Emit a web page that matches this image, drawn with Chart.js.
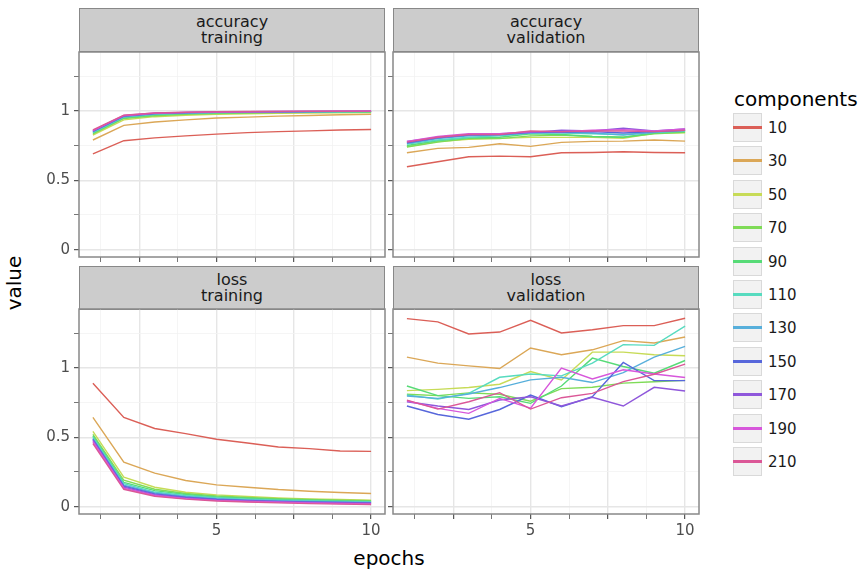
<!DOCTYPE html>
<html>
<head>
<meta charset="utf-8">
<script src="https://cdn.jsdelivr.net/npm/chart.js@4/dist/chart.umd.min.js"></script>
<style>
body { margin: 0; background: #fff; width: 865px; height: 574px; position: relative; overflow: hidden; font-family: "DejaVu Sans", sans-serif; }
canvas { position: absolute; }
.strip { position: absolute; width: 306px; height: 44px; background: #cccccc; border: 1.5px solid #888; box-sizing: border-box; text-align: center; font-size: 16px; line-height: 16px; color: #1a1a1a; padding-top: 5px; }
.title { position: absolute; font-size: 20px; color: #000; }
.key { position: absolute; left: 733px; width: 29px; height: 29px; background: #f2f2f2; border: 1.5px solid #d9d9d9; box-sizing: border-box; }
.key span { position: absolute; left: -1px; right: -1px; top: 12px; height: 3px; }
.klabel { position: absolute; left: 768px; font-size: 15px; color: #1a1a1a; }
</style>
</head>
<body>
<div class="strip" style="left:79px;top:8px">accuracy<br>training</div>
<div class="strip" style="left:393px;top:8px">accuracy<br>validation</div>
<div class="strip" style="left:79px;top:266px">loss<br>training</div>
<div class="strip" style="left:393px;top:266px">loss<br>validation</div>

<canvas id="accTrain" width="348" height="214" style="left:39px;top:51px"></canvas>
<canvas id="accVal" width="314" height="214" style="left:387px;top:51px"></canvas>
<canvas id="lossTrain" width="348" height="236" style="left:39px;top:308px"></canvas>
<canvas id="lossVal" width="314" height="236" style="left:387px;top:308px"></canvas>

<div class="title" style="left:14px;top:283px;transform:translate(-50%,-50%) rotate(-90deg)">value</div>
<div class="title" style="left:389px;top:558px;transform:translate(-50%,-50%)">epochs</div>
<div class="title" style="left:734px;top:87px">components</div>
<div id="legend"></div>

<script>
// categories
const epochs = [1, 2, 3, 4, 5, 6, 7, 8, 9, 10];
const components = ['10', '30', '50', '70', '90', '110', '130', '150', '170', '190', '210'];
const colors = ['#db5f57', '#dba757', '#c7db57', '#7fdb57', '#57db77', '#57dbbf',
                '#57afdb', '#5767db', '#8f57db', '#d757db', '#db5797'];

// tick labels
const xTicks = [1.25, 2.5, 3.75, 5, 6.25, 7.5, 8.75, 10];
const xMajor = [2.5, 5, 7.5, 10];
const xLabels = { 5: '5', 10: '10' };
const yTicks = [0, 0.25, 0.5, 0.75, 1, 1.25];
const yMajor = [0, 0.5, 1];
const yLabels = { 0: '0', 0.5: '0.5', 1: '1' };

// one row per component, one value per epoch
const accTrain = [
    [0.69, 0.785, 0.805, 0.82, 0.832, 0.843, 0.85, 0.856, 0.862, 0.866],
    [0.79, 0.895, 0.92, 0.935, 0.948, 0.955, 0.962, 0.967, 0.972, 0.976],
    [0.826, 0.935, 0.958, 0.968, 0.975, 0.979, 0.982, 0.984, 0.986, 0.987],
    [0.835, 0.945, 0.965, 0.975, 0.98, 0.984, 0.987, 0.989, 0.99, 0.991],
    [0.84, 0.95, 0.972, 0.98, 0.985, 0.988, 0.99, 0.991, 0.992, 0.993],
    [0.845, 0.955, 0.976, 0.983, 0.988, 0.99, 0.992, 0.993, 0.994, 0.995],
    [0.848, 0.958, 0.978, 0.985, 0.989, 0.991, 0.993, 0.994, 0.995, 0.996],
    [0.852, 0.962, 0.98, 0.987, 0.99, 0.993, 0.994, 0.995, 0.996, 0.997],
    [0.855, 0.965, 0.982, 0.988, 0.991, 0.994, 0.995, 0.996, 0.997, 0.997],
    [0.858, 0.967, 0.984, 0.989, 0.992, 0.994, 0.995, 0.996, 0.997, 0.998],
    [0.862, 0.968, 0.985, 0.99, 0.993, 0.995, 0.996, 0.997, 0.997, 0.998]
];
const accVal = [
    [0.597, 0.633, 0.669, 0.674, 0.669, 0.698, 0.7, 0.705, 0.7, 0.698],
    [0.698, 0.73, 0.737, 0.763, 0.744, 0.773, 0.78, 0.782, 0.79, 0.782],
    [0.742, 0.778, 0.795, 0.802, 0.809, 0.809, 0.809, 0.802, 0.838, 0.842],
    [0.74, 0.775, 0.8, 0.8, 0.82, 0.825, 0.815, 0.81, 0.835, 0.845],
    [0.75, 0.785, 0.805, 0.81, 0.835, 0.83, 0.815, 0.81, 0.84, 0.85],
    [0.76, 0.79, 0.81, 0.82, 0.84, 0.84, 0.835, 0.83, 0.845, 0.855],
    [0.765, 0.8, 0.82, 0.825, 0.84, 0.845, 0.84, 0.825, 0.845, 0.86],
    [0.77, 0.805, 0.825, 0.83, 0.845, 0.845, 0.85, 0.84, 0.85, 0.86],
    [0.78, 0.81, 0.83, 0.835, 0.845, 0.86, 0.855, 0.875, 0.855, 0.87],
    [0.78, 0.815, 0.835, 0.835, 0.85, 0.85, 0.86, 0.865, 0.855, 0.87],
    [0.775, 0.81, 0.83, 0.83, 0.855, 0.85, 0.855, 0.855, 0.85, 0.86]
];
const lossTrain = [
    [0.889, 0.643, 0.563, 0.526, 0.486, 0.459, 0.43, 0.418, 0.401, 0.398],
    [0.643, 0.321, 0.241, 0.188, 0.157, 0.14, 0.123, 0.111, 0.102, 0.095],
    [0.543, 0.213, 0.14, 0.104, 0.085, 0.073, 0.063, 0.056, 0.051, 0.046],
    [0.52, 0.19, 0.125, 0.095, 0.077, 0.066, 0.058, 0.052, 0.047, 0.043],
    [0.51, 0.175, 0.115, 0.087, 0.07, 0.06, 0.052, 0.046, 0.042, 0.038],
    [0.5, 0.165, 0.105, 0.08, 0.064, 0.054, 0.047, 0.042, 0.038, 0.035],
    [0.49, 0.155, 0.098, 0.073, 0.058, 0.049, 0.042, 0.037, 0.033, 0.03],
    [0.485, 0.148, 0.092, 0.068, 0.053, 0.045, 0.038, 0.034, 0.03, 0.027],
    [0.478, 0.14, 0.086, 0.063, 0.049, 0.041, 0.035, 0.031, 0.027, 0.024],
    [0.468, 0.133, 0.08, 0.058, 0.045, 0.037, 0.032, 0.027, 0.023, 0.02],
    [0.455, 0.125, 0.075, 0.054, 0.041, 0.033, 0.027, 0.022, 0.018, 0.015]
];
const lossVal = [
    [1.355, 1.331, 1.244, 1.258, 1.343, 1.251, 1.275, 1.304, 1.304, 1.357],
    [1.077, 1.034, 1.014, 0.995, 1.143, 1.094, 1.13, 1.196, 1.179, 1.222],
    [0.836, 0.845, 0.858, 0.882, 0.973, 0.913, 1.113, 1.113, 1.094, 1.087],
    [0.81, 0.8, 0.82, 0.81, 0.76, 0.85, 0.86, 0.89, 0.9, 0.91],
    [0.869, 0.8, 0.78, 0.792, 0.744, 0.869, 1.07, 1.01, 0.961, 1.053],
    [0.804, 0.775, 0.816, 0.932, 0.956, 0.942, 1.034, 1.167, 1.162, 1.3],
    [0.797, 0.78, 0.812, 0.858, 0.913, 0.932, 0.894, 0.966, 1.077, 1.155],
    [0.725, 0.664, 0.63, 0.7, 0.804, 0.72, 0.792, 1.039, 0.908, 0.908],
    [0.756, 0.725, 0.7, 0.768, 0.792, 0.725, 0.788, 0.725, 0.86, 0.833],
    [0.763, 0.708, 0.672, 0.78, 0.71, 0.998, 0.92, 0.986, 0.956, 0.93],
    [0.768, 0.703, 0.756, 0.821, 0.703, 0.785, 0.816, 0.901, 0.954, 1.027]
];

// panel border like ggplot theme_bw
const framePlugin = {
    id: 'frame',
    afterDatasetsDraw(chart) {
        const a = chart.chartArea;
        const c = chart.ctx;
        c.save();
        c.strokeStyle = '#888';
        c.lineWidth = 1.5;
        c.strokeRect(a.left, a.top, a.right - a.left, a.bottom - a.top);
        c.restore();
    }
};

const tickFont = { family: 'DejaVu Sans', size: 15 };

// no label overhang padding, so the plot area is exactly where we put it
function noPad(s) {
    s.paddingTop = 0;
    s.paddingBottom = 0;
    s.paddingLeft = 0;
    s.paddingRight = 0;
}

function makePanel(id, rows, leftPanel, bottomPanel) {
    new Chart(document.getElementById(id), {
        type: 'line',
        data: {
            datasets: rows.map((vals, i) => ({
                label: components[i],
                data: epochs.map((e, j) => ({ x: e, y: vals[j] })),
                borderColor: colors[i],
                borderWidth: 1.4,
                pointRadius: 0,
                tension: 0,
                order: rows.length - i   // later components drawn on top, like ggplot
            }))
        },
        options: {
            responsive: false,
            animation: false,
            layout: { padding: { top: 1, right: 2, left: 0, bottom: 0 } },
            plugins: { legend: { display: false }, tooltip: { enabled: false } },
            scales: {
                x: {
                    type: 'linear',
                    min: 0.55,
                    max: 10.45,
                    afterBuildTicks: s => { s.ticks = xTicks.map(v => ({ value: v })); },
                    afterFit: s => { s.height = bottomPanel ? 30 : 8; noPad(s); },
                    ticks: {
                        autoSkip: false,
                        maxRotation: 0,
                        padding: 3,
                        color: '#4d4d4d',
                        font: tickFont,
                        callback: v => bottomPanel ? (xLabels[v] || '') : ''
                    },
                    grid: {
                        color: c => xMajor.includes(c.tick.value) ? '#e6e6e6' : '#f2f2f2',
                        lineWidth: c => xMajor.includes(c.tick.value) ? 1.4 : 0.8,
                        tickLength: 5,
                        tickColor: c => xMajor.includes(c.tick.value) ? '#333' : '#777',
                        tickWidth: 1
                    },
                    border: { display: false }
                },
                y: {
                    type: 'linear',
                    min: -0.053,
                    max: 1.424,
                    afterBuildTicks: s => { s.ticks = yTicks.map(v => ({ value: v })); },
                    afterFit: s => { s.width = leftPanel ? 40 : 6; noPad(s); },
                    ticks: {
                        autoSkip: false,
                        padding: 4,
                        color: '#4d4d4d',
                        font: tickFont,
                        callback: v => leftPanel ? (yLabels[v] || '') : ''
                    },
                    grid: {
                        color: c => yMajor.includes(c.tick.value) ? '#e6e6e6' : '#f2f2f2',
                        lineWidth: c => yMajor.includes(c.tick.value) ? 1.4 : 0.8,
                        tickLength: 5,
                        tickColor: c => yMajor.includes(c.tick.value) ? '#333' : '#777',
                        tickWidth: 1
                    },
                    border: { display: false }
                }
            }
        },
        plugins: [framePlugin]
    });
}

makePanel('accTrain', accTrain, true, false);
makePanel('accVal', accVal, false, false);
makePanel('lossTrain', lossTrain, true, true);
makePanel('lossVal', lossVal, false, true);

// legend keys
const legend = document.getElementById('legend');
components.forEach((name, i) => {
    const top = 113 + i * 33.4;
    const key = document.createElement('div');
    key.className = 'key';
    key.style.top = top + 'px';
    const line = document.createElement('span');
    line.style.background = colors[i];
    key.appendChild(line);
    legend.appendChild(key);
    const lab = document.createElement('div');
    lab.className = 'klabel';
    lab.style.top = (top + 6) + 'px';
    lab.textContent = name;
    legend.appendChild(lab);
});
</script>
</body>
</html>
